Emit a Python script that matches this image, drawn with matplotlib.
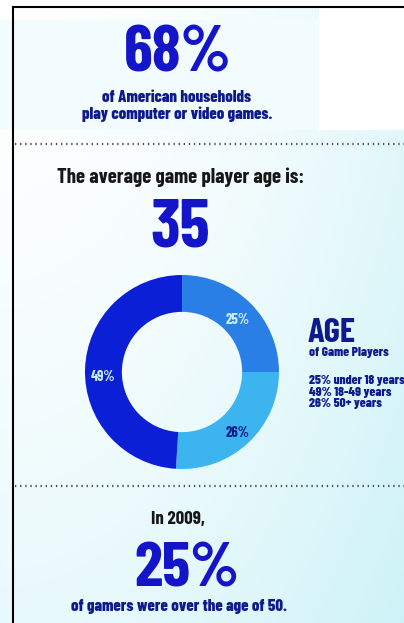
import numpy as np
import matplotlib.pyplot as plt

# chart values
age_groups = ['under 18 years', '18-49 years', '50+ years']
age_shares = [25, 49, 26]
households_pct = 68
average_age = 35
over50_pct_2009 = 25

W, H = 404, 623
plt.rcParams['font.family'] = ['Barlow Condensed', 'DejaVu Sans']
plt.rcParams['font.weight'] = 'bold'

fig = plt.figure(figsize=(W / 100, H / 100), dpi=100)
ax = fig.add_axes([0, 0, 1, 1])
ax.set_xlim(0, W)
ax.set_ylim(H, 0)
ax.axis('off')

# soft cyan background, stronger to the right and toward the bottom
yy, xx = np.mgrid[0:H, 0:W]
t = np.clip(0.55 * (xx / W) ** 2 + 0.45 * (yy / H) ** 1.5, 0, 1)
t[(yy < 130) & (xx > 318)] = 0.0
t[(yy >= 20) & (yy < 130) & (xx <= 318)] = 0.25
white = np.array([1.0, 1.0, 1.0])
cyan = np.array([0.80, 0.95, 0.97])
bg = white + (cyan - white) * t[..., None]
bg[:7, :] = 1.0
ax.imshow(bg, extent=[0, W, H, 0], aspect='auto', zorder=0)

# frame lines (top and left)
ax.plot([13, W], [7, 7], color='black', lw=1.5, zorder=1)
ax.plot([13, 13], [7, H], color='black', lw=1.5, zorder=1)

navy = '#0d1a8c'
blue = '#1414c8'
dark = '#161616'

ax.text(178, 72, f'{households_pct}%', ha='center', va='baseline',
        fontsize=47, color=blue)
ax.text(177, 97, 'of American households', ha='center', va='center',
        fontsize=12, color=navy, weight=800)
ax.text(177, 114, 'play computer or video games.', ha='center', va='center',
        fontsize=12, color=navy, weight=800)

for y in (144, 486):
    ax.plot([15, W], [y, y], color='#4a4a5a', lw=1.6,
            linestyle=(0, (0.6, 1.7)), zorder=2)

ax.text(181, 177, 'The average game player age is:', ha='center',
        va='center', fontsize=15, color=dark)
ax.text(180, 229, str(average_age), ha='center', va='center',
        fontsize=49, color=blue)

ax.text(308, 333, 'AGE', ha='left', va='center', fontsize=25, color=navy)
ax.text(309, 353, 'of Game Players', ha='left', va='center',
        fontsize=9.5, color=navy, weight=800)
for i, (share, grp) in enumerate(zip(age_shares, age_groups)):
    ax.text(309, 381 + i * 11.2, f'{share}% {grp}', ha='left', va='center',
            fontsize=9.5, color=navy, weight=800)

ax.text(178, 520, 'In 2009,', ha='center', va='center', fontsize=13.5,
        color=dark)
ax.text(187, 570, f'{over50_pct_2009}%', ha='center', va='center',
        fontsize=46, color=blue)
ax.text(179, 606, 'of gamers were over the age of 50.', ha='center',
        va='center', fontsize=12, color=navy, weight=800)

# donut
cx, cy, r = 182, 372, 97
pax = fig.add_axes([(cx - r) / W, 1 - (cy + r) / H, 2 * r / W, 2 * r / H])
order = [0, 2, 1]
vals = [age_shares[i] for i in order]
cols = ['#2a7fe6', '#3cb4f0', '#0a1fd6']
wedges, _ = pax.pie(vals, colors=cols, startangle=90, counterclock=False,
                    radius=1.0, wedgeprops=dict(width=0.38, edgecolor='none'))
pax.set_xlim(-1, 1)
pax.set_ylim(-1, 1)
pax.set_aspect('equal')
pax.axis('off')

label_pos = [(0.57, 0.54), (0.57, -0.63), (-0.81, -0.05)]
label_col = ['#c8f0f8', '#0d1a8c', '#c8f0f8']
for v, (lx, ly), lc in zip(vals, label_pos, label_col):
    pax.text(lx, ly, f'{v}%', ha='center', va='center', fontsize=10.5,
             color=lc)

fig.savefig('out.png', dpi=100)
